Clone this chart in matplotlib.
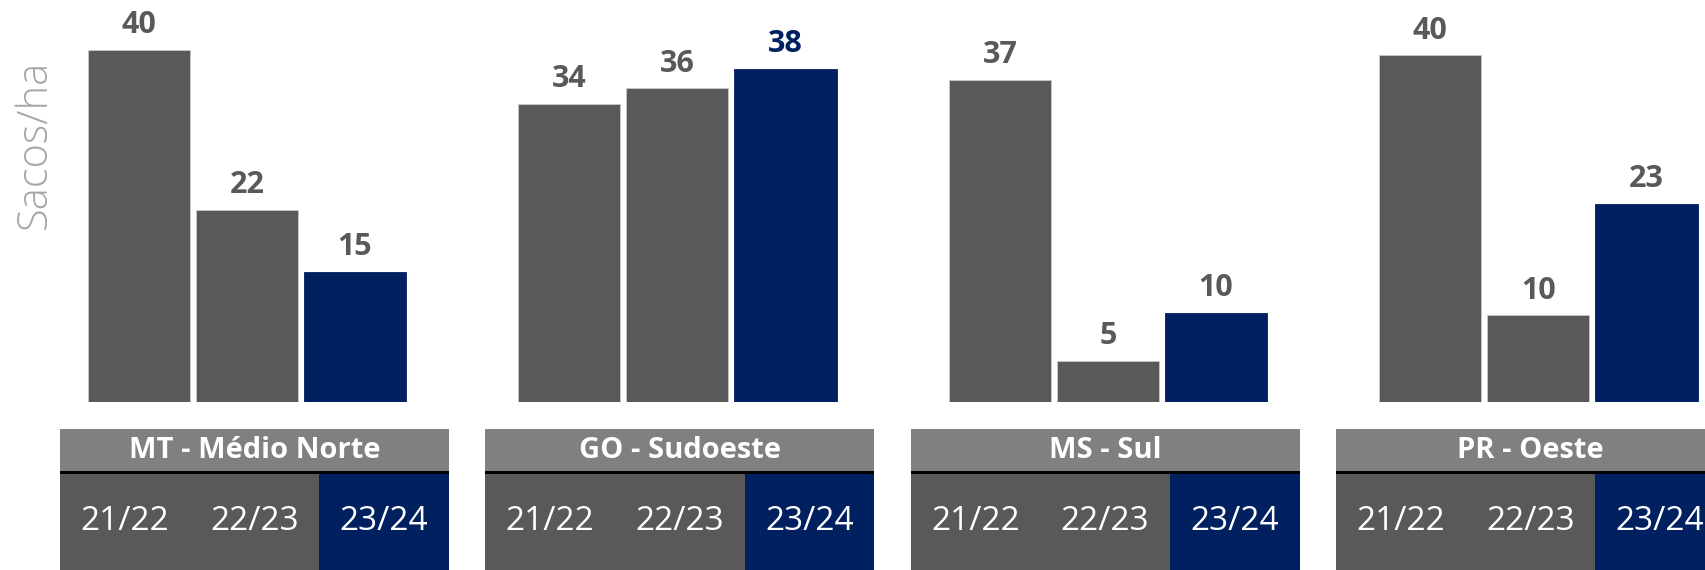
import numpy as np
import matplotlib
matplotlib.use('Agg')
import matplotlib.pyplot as plt
from matplotlib.patches import Rectangle

plt.rcParams['font.family'] = ['Open Sans', 'DejaVu Sans']

# dados (sacos/ha)
regioes = ['MT - Médio Norte', 'GO - Sudoeste', 'MS - Sul', 'PR - Oeste']
safras = ['21/22', '22/23', '23/24']
mt_valores = [40.4, 22.0, 14.9]
go_valores = [34.2, 36.0, 38.2]
ms_valores = [37.0, 4.7, 10.2]
pr_valores = [39.8, 9.9, 22.7]
valores = [mt_valores, go_valores, ms_valores, pr_valores]

CINZA = '#595959'
CINZA_CAB = '#808080'
AZUL = '#002060'
cores_barras = [CINZA, CINZA, AZUL]

W, H = 1706, 570
fig = plt.figure(figsize=(W / 100, H / 100), dpi=100)

BASE_Y = 401.5      # linha de base das barras em px (a partir do topo)
PX_UNID = 8.7       # px por saco/ha
TAB_ESQ = 60        # borda esquerda da primeira tabela
TAB_LARG = 389
PASSO_TAB = 425.3   # distancia entre tabelas
PASSO_BAR = 430.5   # distancia entre grupos de barras (um pouco maior)
TAB_TOPO = 429

for i, (regiao, vals) in enumerate(zip(regioes, valores)):
    xb = TAB_ESQ + PASSO_BAR * i
    xt = TAB_ESQ + PASSO_TAB * i

    # barras
    ax = fig.add_axes([xb / W, (H - BASE_Y) / H, TAB_LARG / W, BASE_Y / H])
    pos = np.arange(len(vals))
    for p, v, c in zip(pos, vals, cores_barras):
        borda = '#c8c8c8' if c == CINZA else AZUL
        ax.bar(p, v, width=0.945, color=c, edgecolor=borda, linewidth=0.6)
        cor_txt = AZUL if (i == 1 and p == 2) else CINZA
        ax.annotate(f'{v:.0f}', (p, v), xytext=(0, 12), textcoords='offset points',
                    ha='center', va='baseline', fontsize=22, fontweight='bold', color=cor_txt)
    ax.set_xlim(-0.73, 2.87)
    ax.set_ylim(0, BASE_Y / PX_UNID)
    ax.axis('off')

    # tabela embaixo
    tab_alt = H - TAB_TOPO
    axt = fig.add_axes([xt / W, 0, TAB_LARG / W, tab_alt / H])
    axt.set_xlim(0, 3)
    axt.set_ylim(0, tab_alt)
    axt.axis('off')
    axt.add_patch(Rectangle((0, 99), 3, tab_alt - 99, color=CINZA_CAB, lw=0))
    axt.add_patch(Rectangle((0, 96.5), 3, 2.5, color='black', lw=0))
    for j, s in enumerate(safras):
        axt.add_patch(Rectangle((j, 0), 1, 96.5, color=cores_barras[j], lw=0))
        axt.text(j + 0.5, 49, s, ha='center', va='center', fontsize=24, color='white')
    axt.text(1.5, 120, regiao, ha='center', va='center', fontsize=21,
             fontweight='bold', color='white')

fig.text(34 / W, 1 - 144 / H, 'Sacos/ha', rotation=90, ha='center', va='center',
         fontsize=30, fontweight='light', color='#a6a6a6')

fig.savefig('out.png', dpi=100)
